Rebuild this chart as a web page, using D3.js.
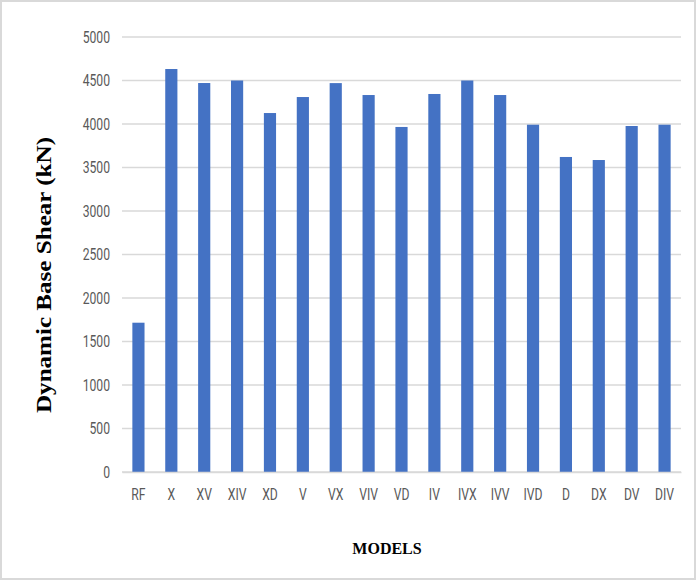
<!DOCTYPE html>
<html>
<head>
<meta charset="utf-8">
<script src="https://cdn.jsdelivr.net/npm/d3@7"></script>
<style>
  html, body { margin: 0; padding: 0; background: #fff; }
  svg { display: block; }
</style>
</head>
<body>
<svg id="chart" width="698" height="581"></svg>
<script>
const categories = ["RF","X","XV","XIV","XD","V","VX","VIV","VD","IV","IVX","IVV","IVD","D","DX","DV","DIV"];
const values = [1716, 4632, 4471, 4500, 4126, 4310, 4470, 4333, 3966, 4345, 4500, 4333, 3992, 3621, 3586, 3977, 3992];
const yTicks = [0, 500, 1000, 1500, 2000, 2500, 3000, 3500, 4000, 4500, 5000];
const yTitle = "Dynamic Base Shear (kN)";
const xTitle = "MODELS";

const W = 698, H = 581;
const svg = d3.select("#chart");

// outer border
svg.append("rect").attr("x", 1).attr("y", 1).attr("width", W - 4).attr("height", H - 3)
  .attr("fill", "#fff").attr("stroke", "#d9d9d9").attr("stroke-width", 2);

const plot = { left: 122, right: 681, top: 37, bottom: 472 };

const x = d3.scaleBand().domain(categories).range([plot.left, plot.right]).paddingInner(0.63).paddingOuter(0.315);
const y = d3.scaleLinear().domain([0, 5000]).range([plot.bottom, plot.top]);

const labelFont = "Roboto, 'Liberation Sans', sans-serif";
const squeeze = 0.76;

// gridlines
svg.append("g").selectAll("line").data(yTicks).join("line")
  .attr("x1", plot.left).attr("x2", plot.right)
  .attr("y1", d => y(d)).attr("y2", d => y(d))
  .attr("stroke", "#d9d9d9").attr("stroke-width", 1.3);

// y axis labels
const yAxis = d3.axisLeft(y).tickValues(yTicks).tickSize(0).tickPadding(12).tickFormat(d3.format("d"));
const yg = svg.append("g").attr("transform", `translate(${plot.left},0)`).call(yAxis);
yg.select(".domain").remove();
yg.selectAll("text")
  .attr("fill", "#595959").style("font-family", labelFont).style("font-size", "16px")
  .attr("x", -12 / squeeze)
  .attr("transform", `scale(${squeeze},1)`);

// bars
svg.append("g").selectAll("rect").data(categories).join("rect")
  .attr("x", d => x(d))
  .attr("width", x.bandwidth())
  .attr("y", (d, i) => y(values[i]))
  .attr("height", (d, i) => y(0) - y(values[i]))
  .attr("fill", "#4472C4");

// x axis
const xAxis = d3.axisBottom(x).tickSize(0).tickPadding(17);
const xg = svg.append("g").attr("transform", `translate(0,${plot.bottom})`).call(xAxis);
xg.select(".domain").attr("stroke", "#d9d9d9").attr("stroke-width", 1.3);
xg.selectAll("text")
  .attr("fill", "#595959").style("font-family", labelFont).style("font-size", "16px")
  .attr("transform", `scale(${squeeze},1)`);

// axis titles
svg.append("text")
  .attr("transform", `translate(51,${275}) rotate(-90)`)
  .attr("text-anchor", "middle")
  .attr("textLength", 276).attr("lengthAdjust", "spacingAndGlyphs")
  .style("font-family", "'Liberation Serif', 'Times New Roman', serif")
  .style("font-weight", "bold").style("font-size", "20px")
  .attr("fill", "#000")
  .text(yTitle);

svg.append("text")
  .attr("x", 387).attr("y", 554)
  .attr("text-anchor", "middle")
  .style("font-family", "'Liberation Serif', 'Times New Roman', serif")
  .style("font-weight", "bold").style("font-size", "16px")
  .attr("fill", "#000")
  .text(xTitle);
</script>
</body>
</html>
